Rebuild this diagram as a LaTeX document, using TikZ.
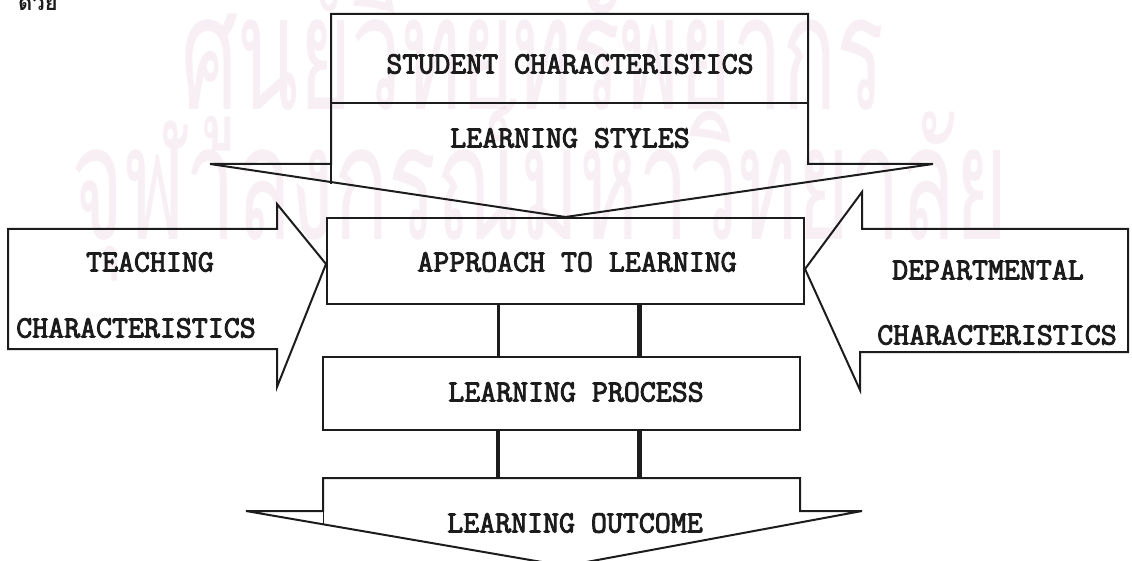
\documentclass[tikz,border=0pt]{standalone}
\usepackage{fontspec}
\newfontfamily\typew{Latin Modern Mono}[FakeBold=3]
\newfontfamily\thaifont[Script=Thai]{Loma}
\definecolor{ink}{RGB}{28,28,28}
\definecolor{wm}{RGB}{200,120,170}
\tikzset{
  outline/.style={draw=ink, line width=2pt, line join=miter},
  boxnode/.style={draw=ink, line width=2pt, rectangle, inner sep=0pt},
  lbl/.style={font=\typew\fontsize{31}{31}\selectfont, text=ink, inner sep=0pt},
  thinconn/.style={draw=ink, line width=3pt},
  thickconn/.style={draw=ink, line width=5pt},
  wmtext/.style={text=wm, text opacity=0.12, font=\thaifont\fontsize{160}{160}\selectfont, inner sep=0pt},
}
\begin{document}
\begin{tikzpicture}[x=1pt,y=-1pt]
\useasboundingbox (0,0) rectangle (1132,561);
% watermark
\node[wmtext, anchor=base] (wm1) at (533,110) {\scalebox{0.56}[1]{ศูนย์วิทยทรัพยากร}};
\node[wmtext, anchor=base] (wm2) at (540,240) {\scalebox{0.56}[1]{จุฬาลงกรณ์มหาวิทยาลัย}};
% cut-off heading
\node[font=\thaifont\bfseries\fontsize{22}{22}\selectfont, text=ink, anchor=base west, inner sep=0pt] (head) at (18,11) {ด้วย};

% central boxes
\node[boxnode, minimum width=477pt, minimum height=86pt] (app) at (565.5,261) {};
\node[lbl] (appt) at (577,262) {APPROACH TO LEARNING};
\node[boxnode, minimum width=477pt, minimum height=73pt] (pro) at (561.5,393.5) {};
\node[lbl] (prot) at (576,392) {LEARNING PROCESS};

% top arrow
\coordinate (tl) at (331,14);
\coordinate (tr) at (808,14);
\draw[outline] (tl) -- (tr) -- (808,164) -- (933,164) -- (app.north) -- (210,164) -- (331,164) -- cycle;
\draw[outline] (331,164) -- (331,184);
\draw[outline] (331,103) -- (808,103);
\node[lbl] (stu) at (570,64) {STUDENT CHARACTERISTICS};
\node[lbl] (sty) at (570,138) {LEARNING STYLES};

% left arrow
\draw[outline] (8,229) -- (277,229) -- (277,204) -- ([yshift=-3pt]app.west) -- (277,387) -- (277,349) -- (8,349) -- cycle;
\node[lbl] (tea1) at (150,262) {TEACHING};
\node[lbl] (tea2) at (136,328) {CHARACTERISTICS};

% right arrow
\draw[outline] (1128,229) -- (862,229) -- (862,192) -- ([yshift=-8pt]app.east) -- (860,390) -- (860,352) -- (1128,352) -- cycle;
\node[lbl] (dep1) at (988,270) {DEPARTMENTAL};
\node[lbl] (dep2) at (997,335) {CHARACTERISTICS};

% outcome arrow
\coordinate (outtop) at (561.5,478);
\coordinate (outtip) at (565,566);
\draw[outline] (323,511) -- (323,478) -- (800,478) -- (800,511) -- (862,511) -- (outtip) -- (246,511) -- cycle;
\draw[draw=ink, line width=1pt] (323,511) -- (323,524);
\node[lbl] (outt) at (575,523) {LEARNING OUTCOME};

% connectors
\coordinate (c1) at (498,0);
\coordinate (c2) at (639,0);
\draw[thinconn] (app.south -| c1) -- (pro.north -| c1);
\draw[thickconn] (app.south -| c2) -- (pro.north -| c2);
\draw[thinconn, line width=4pt] (pro.south -| c1) -- (outtop -| c1);
\draw[thickconn] (pro.south -| c2) -- (outtop -| c2);
\end{tikzpicture}
\end{document}
